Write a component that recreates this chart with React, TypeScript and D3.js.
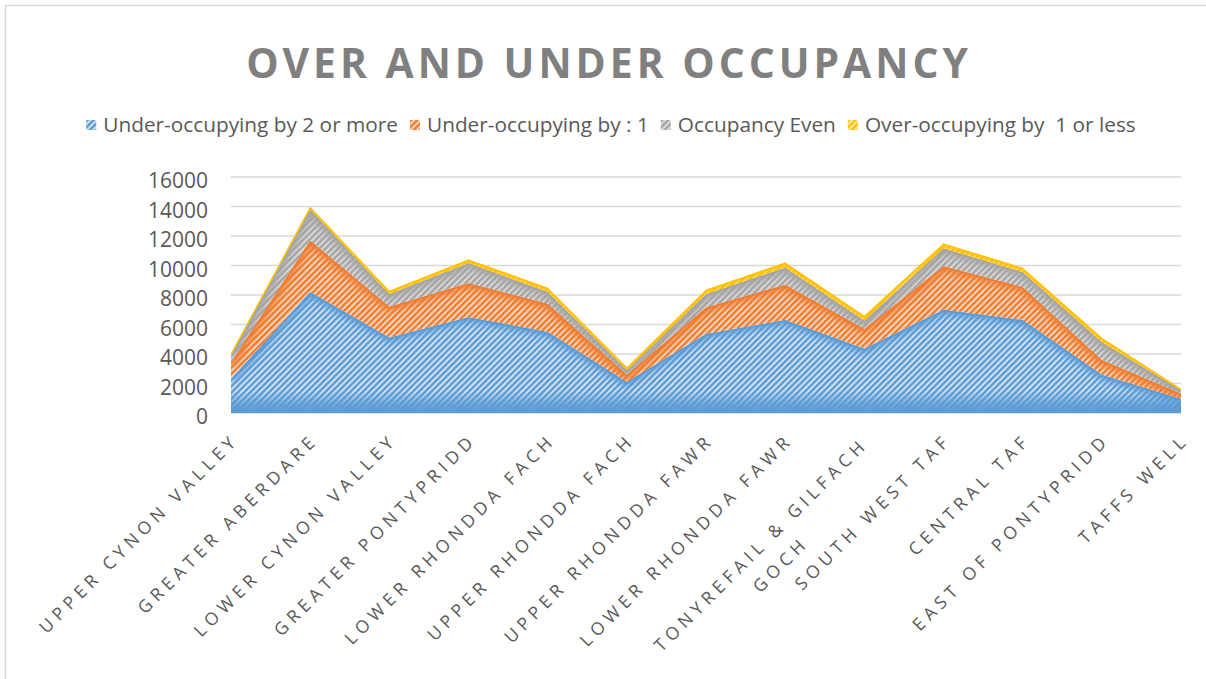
import React, { useRef, useEffect } from "react";
import * as d3 from "d3";

// values
const categories = [
  "UPPER CYNON VALLEY",
  "GREATER ABERDARE",
  "LOWER CYNON VALLEY",
  "GREATER PONTYPRIDD",
  "LOWER RHONDDA FACH",
  "UPPER RHONDDA FACH",
  "UPPER RHONDDA FAWR",
  "LOWER RHONDDA FAWR",
  "TONYREFAIL & GILFACH GOCH",
  "SOUTH WEST TAF",
  "CENTRAL TAF",
  "EAST OF PONTYPRIDD",
  "TAFFS WELL"
];
// multi-line labels (Excel wraps this one)
const labelLines: Record<string, string[]> = {
  "TONYREFAIL & GILFACH GOCH": ["TONYREFAIL & GILFACH", "GOCH"]
};

const underTwo = [2300, 8200, 5100, 6500, 5500, 2100, 5350, 6300, 4350, 7000, 6300, 2600, 950];
const underOne = [1100, 3500, 2100, 2300, 1900, 500, 1800, 2400, 1350, 2950, 2250, 1000, 350];
const occEven = [500, 2100, 850, 1350, 800, 300, 900, 1150, 550, 1200, 1000, 1200, 250];
const overOne = [150, 180, 230, 250, 300, 200, 300, 350, 350, 350, 300, 300, 100];

const seriesNames = [
  "Under-occupying by 2 or more",
  "Under-occupying by : 1",
  "Occupancy Even",
  "Over-occupying by  1 or less"
];
const seriesColors = ["#5B9BD5", "#ED7D31", "#A5A5A5", "#FFC000"];
const stripeColors = ["#d3e3f4", "#f9d5bd", "#d9d9d9", "#ffe8a3"];
const yTicks = [0, 2000, 4000, 6000, 8000, 10000, 12000, 14000, 16000];

const W = 1206;
const H = 679;

export default function App() {
  const svgRef = useRef<SVGSVGElement>(null);

  useEffect(() => {
    const svg = d3.select(svgRef.current);
    svg.selectAll("*").remove();

    const x = d3.scalePoint<string>().domain(categories).range([231, 1181]);
    const y = d3.scaleLinear().domain([0, 16000]).range([413, 177]);

    const rows = categories.map((c, i) => ({
      cat: c,
      s0: underTwo[i],
      s1: underOne[i],
      s2: occEven[i],
      s3: overOne[i]
    }));
    const keys = ["s0", "s1", "s2", "s3"];
    const stacked = d3.stack<any>().keys(keys)(rows);

    // chart border
    svg
      .append("rect")
      .attr("x", 5.5)
      .attr("y", 5.5)
      .attr("width", 1300)
      .attr("height", 800)
      .attr("fill", "#fff")
      .attr("stroke", "#d9d9d9")
      .attr("stroke-width", 1.5);

    const defs = svg.append("defs");
    seriesColors.forEach((col, i) => {
      const p = defs
        .append("pattern")
        .attr("id", "pat" + i)
        .attr("patternUnits", "userSpaceOnUse")
        .attr("width", 4.4)
        .attr("height", 4.4)
        .attr("patternTransform", "rotate(45)");
      p.append("rect").attr("width", 4.4).attr("height", 4.4).attr("fill", stripeColors[i]);
      p.append("rect").attr("width", 2.4).attr("height", 4.4).attr("fill", col);
    });
    const blur = defs.append("filter").attr("id", "soft").attr("x", "-10%").attr("y", "-50%").attr("width", "120%").attr("height", "200%");
    blur.append("feGaussianBlur").attr("stdDeviation", 3);
    const bottomGrad = defs
      .append("linearGradient")
      .attr("id", "bottomGlow")
      .attr("x1", 0)
      .attr("y1", 1)
      .attr("x2", 0)
      .attr("y2", 0);
    bottomGrad.append("stop").attr("offset", "0%").attr("stop-color", seriesColors[0]).attr("stop-opacity", 1);
    bottomGrad.append("stop").attr("offset", "35%").attr("stop-color", seriesColors[0]).attr("stop-opacity", 0.85);
    bottomGrad.append("stop").attr("offset", "100%").attr("stop-color", seriesColors[0]).attr("stop-opacity", 0);

    // title
    svg
      .append("text")
      .attr("x", 609)
      .attr("y", 78)
      .attr("text-anchor", "middle")
      .attr("font-family", "'Open Sans', sans-serif")
      .attr("font-weight", "bold")
      .attr("font-size", 40.8)
      .attr("letter-spacing", 4)
      .attr("fill", "#808080")
      .text("OVER AND UNDER OCCUPANCY");

    // legend
    const legend = svg
      .append("g")
      .attr("font-family", "'Open Sans', sans-serif")
      .attr("font-size", 20.8)
      .attr("fill", "#595959");
    const items = seriesNames.map((name, i) => {
      const g = legend.append("g");
      g.append("rect").attr("width", 10).attr("height", 10).attr("y", -12).attr("fill", `url(#pat${i})`);
      const t = g.append("text").attr("x", 17).attr("y", 0).style("white-space", "pre").text(name);
      const w = (t.node() as SVGTextElement).getComputedTextLength();
      return { g, w: 17 + w };
    });
    const gap = 12;
    const total = d3.sum(items, (d) => d.w) + gap * (items.length - 1);
    let lx = 611 - total / 2;
    items.forEach((it) => {
      it.g.attr("transform", `translate(${lx},132)`);
      lx += it.w + gap;
    });

    // gridlines + y labels
    const grid = svg.append("g");
    grid
      .selectAll("line")
      .data(yTicks)
      .join("line")
      .attr("x1", 231)
      .attr("x2", 1181)
      .attr("y1", (d) => y(d))
      .attr("y2", (d) => y(d))
      .attr("stroke", "#d9d9d9")
      .attr("stroke-width", 1.5);
    grid
      .selectAll("text")
      .data(yTicks)
      .join("text")
      .attr("x", 208)
      .attr("y", (d) => y(d) + 11)
      .attr("text-anchor", "end")
      .attr("font-family", "'Open Sans', sans-serif")
      .attr("font-size", 21)
      .attr("fill", "#595959")
      .text((d) => String(d));

    // areas
    const area = d3
      .area<any>()
      .x((d) => x(d.data.cat) as number)
      .y0((d) => y(d[0]))
      .y1((d) => y(d[1]));
    const topLine = d3
      .line<any>()
      .x((d) => x(d.data.cat) as number)
      .y((d) => y(d[1]));

    stacked.forEach((layer, i) => {
      defs.append("clipPath").attr("id", "clip" + i).append("path").attr("d", area(layer) as string);
      const g = svg.append("g").attr("clip-path", `url(#clip${i})`);
      g.append("path").attr("d", area(layer) as string).attr("fill", `url(#pat${i})`);
      if (i === 0) {
        g.append("rect")
          .attr("x", 231)
          .attr("width", 950)
          .attr("y", y(0) - 22)
          .attr("height", 22)
          .attr("fill", "url(#bottomGlow)");
      }
      g.append("path")
        .attr("d", topLine(layer) as string)
        .attr("fill", "none")
        .attr("stroke", seriesColors[i])
        .attr("stroke-width", i === 3 ? 6 : 9)
        .attr("filter", "url(#soft)");
      g.append("path")
        .attr("d", topLine(layer) as string)
        .attr("fill", "none")
        .attr("stroke", seriesColors[i])
        .attr("stroke-width", 3);
    });

    // x labels rotated -45
    const xl = svg
      .append("g")
      .attr("font-family", "'Open Sans', sans-serif")
      .attr("font-size", 17.5)
      .attr("letter-spacing", 5)
      .attr("fill", "#595959");
    categories.forEach((c) => {
      const ax = (x(c) as number) + 9;
      const ay = 441;
      const g = xl.append("g").attr("transform", `translate(${ax},${ay}) rotate(-45)`);
      const lines = labelLines[c] || [c];
      const texts = lines.map((ln, k) =>
        g
          .append("text")
          .attr("y", k * 28)
          .attr("text-anchor", "end")
          .text(ln)
      );
      if (lines.length > 1) {
        const w0 = (texts[0].node() as SVGTextElement).getComputedTextLength();
        texts.forEach((t, k) => {
          if (k === 0) {
            t.attr("x", -6);
            return;
          }
          const wk = (t.node() as SVGTextElement).getComputedTextLength();
          t.attr("x", -6 - (w0 - wk) / 2);
        });
      }
    });
  }, []);

  return (
    <svg
      ref={svgRef}
      width={W}
      height={H}
      style={{ position: "absolute", left: 0, top: 0, background: "#fff" }}
    />
  );
}
